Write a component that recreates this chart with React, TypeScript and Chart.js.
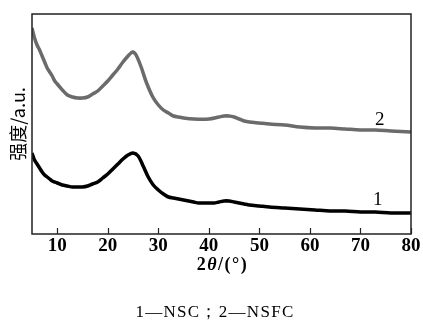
import React, { useEffect, useRef } from "react";
import { Chart, registerables } from "chart.js";

Chart.register(...registerables);

// ---- data ----
const xTicks = [10, 20, 30, 40, 50, 60, 70, 80];

// curve 2 : NSFC (grey)
const nsfcX = [5, 5.5, 6, 6.5, 7, 7.5, 8, 8.5, 9, 9.5, 10, 10.5, 11, 12, 13, 14, 15, 16, 17, 18, 19, 20, 21, 22, 23, 24, 24.6, 25, 25.6, 26.6, 27.6, 28.9, 30, 31, 32, 33, 34, 35, 37, 40, 42, 43, 44, 45, 46, 47, 48, 50, 52, 55, 58, 61, 64, 67, 70, 73, 76, 80];
const nsfcY = [206, 196, 189, 184, 178, 172, 166, 162, 158, 153, 150, 147, 144, 139, 137, 136, 136, 137, 140, 143, 148, 153, 159, 165, 172, 178, 181, 182, 179, 167, 152, 137, 129, 124, 121, 118, 117, 116, 115, 115, 117, 118, 118, 117, 115, 113, 112, 111, 110, 109, 107, 106, 106, 105, 104, 104, 103, 102];

// curve 1 : NSC (black)
const nscX = [5, 5.5, 6, 6.5, 7, 7.5, 8, 8.5, 9, 10, 11, 12, 13, 14, 15, 16, 17, 18, 19, 20, 21, 22, 23, 24, 25, 26, 27, 28, 29, 30, 31, 32, 33, 34, 35, 36, 37, 38, 39, 40, 41, 42, 43, 44, 45, 46, 47, 48, 50, 52, 55, 58, 61, 64, 67, 70, 73, 76, 80];
const nscY = [81, 74, 70, 66, 62, 59, 57, 55, 53, 51, 49, 48, 47, 47, 47, 48, 50, 52, 56, 60, 65, 70, 75, 79, 81, 78, 68, 57, 49, 44, 40, 37, 36, 35, 34, 33, 32, 31, 31, 31, 31, 32, 33, 33, 32, 31, 30, 29, 28, 27, 26, 25, 24, 23, 23, 22, 22, 21, 21];

const curveLabels = ["1", "2"];
const xTitleParts = ["2", "θ", "/(°)"];
const yTitle = "强度/a.u.";
const caption = "1—NSC；2—NSFC";

const SERIF = '"Liberation Serif", "DejaVu Serif", serif';

const decorPlugin = {
  id: "decor",
  afterDraw(chart: any) {
    const { ctx, chartArea: a, scales } = chart;
    const x = scales.x;
    const y = scales.y;
    ctx.save();
    // frame
    ctx.strokeStyle = "#222";
    ctx.lineWidth = 1.5;
    ctx.strokeRect(a.left, a.top, a.right - a.left, a.bottom - a.top);
    // inward ticks
    ctx.lineWidth = 1.2;
    for (const t of xTicks) {
      const px = Math.round(x.getPixelForValue(t)) + 0.5;
      ctx.beginPath();
      ctx.moveTo(px, a.bottom);
      ctx.lineTo(px, a.bottom - 6);
      ctx.stroke();
    }
    // curve labels
    ctx.fillStyle = "#000";
    ctx.font = `19px ${SERIF}`;
    ctx.textAlign = "center";
    ctx.textBaseline = "middle";
    ctx.fillText(curveLabels[1], x.getPixelForValue(73.8), y.getPixelForValue(114));
    ctx.fillText(curveLabels[0], x.getPixelForValue(73.4), y.getPixelForValue(34));
    // x title with italic theta
    const fonts = [`bold 18px ${SERIF}`, `italic bold 18px ${SERIF}`, `bold 18px ${SERIF}`];
    (ctx as any).letterSpacing = "1.5px";
    let total = 0;
    const widths = xTitleParts.map((p, i) => {
      ctx.font = fonts[i];
      const w = ctx.measureText(p).width;
      total += w;
      return w;
    });
    let cx = (a.left + a.right) / 2 - total / 2 + 1;
    ctx.textAlign = "left";
    xTitleParts.forEach((p, i) => {
      ctx.font = fonts[i];
      ctx.fillText(p, cx, 265);
      cx += widths[i];
    });
    // caption
    ctx.textAlign = "center";
    (ctx as any).letterSpacing = "1.3px";
    ctx.font = `17px ${SERIF}`;
    ctx.fillText(caption, 215, 313);
    ctx.restore();
  },
};

export default function App() {
  const ref = useRef<HTMLCanvasElement | null>(null);

  useEffect(() => {
    document.body.style.margin = "0";
    const canvas = ref.current;
    if (!canvas) return;
    const chart = new Chart(canvas, {
      type: "line",
      data: {
        datasets: [
          {
            label: "NSFC",
            data: nsfcX.map((v, i) => ({ x: v, y: nsfcY[i] })),
            borderColor: "#6b6b6b",
            borderWidth: 3.5,
            pointRadius: 0,
            tension: 0.3,
          },
          {
            label: "NSC",
            data: nscX.map((v, i) => ({ x: v, y: nscY[i] })),
            borderColor: "#000000",
            borderWidth: 3.5,
            pointRadius: 0,
            tension: 0.3,
          },
        ],
      },
      options: {
        animation: false,
        responsive: false,
        maintainAspectRatio: false,
        devicePixelRatio: 1,
        layout: { padding: { left: 0, right: 12, top: 14, bottom: 48 } },
        plugins: { legend: { display: false }, tooltip: { enabled: false } },
        scales: {
          x: {
            type: "linear",
            min: 5,
            max: 80,
            grid: { display: false, drawTicks: false },
            border: { display: false },
            afterBuildTicks: (axis: any) => {
              axis.ticks = xTicks.map((v) => ({ value: v }));
            },
            afterFit: (axis: any) => {
              axis.height = 40;
              axis.paddingLeft = 0;
              axis.paddingRight = 0;
            },
            ticks: {
              color: "#000",
              padding: 1,
              maxRotation: 0,
              autoSkip: false,
              font: { family: SERIF, size: 19, weight: "bold" },
            },
          },
          y: {
            type: "linear",
            min: 0,
            max: 220,
            grid: { display: false, drawTicks: false },
            border: { display: false },
            ticks: { display: false },
            afterFit: (axis: any) => {
              axis.width = 32;
              axis.paddingTop = 0;
              axis.paddingBottom = 0;
            },
            title: {
              display: true,
              text: yTitle,
              color: "#000",
              padding: { top: 9, bottom: 0 },
              font: { family: '"Noto Sans CJK SC", sans-serif', size: 18, lineHeight: 1 },
            },
          },
        },
      },
      plugins: [decorPlugin],
    });
    return () => chart.destroy();
  }, []);

  return (
    <div style={{ position: "fixed", left: 0, top: 0, width: 423, height: 322, background: "#fff" }}>
      <canvas ref={ref} width={423} height={322} style={{ width: 423, height: 322 }} />
    </div>
  );
}
